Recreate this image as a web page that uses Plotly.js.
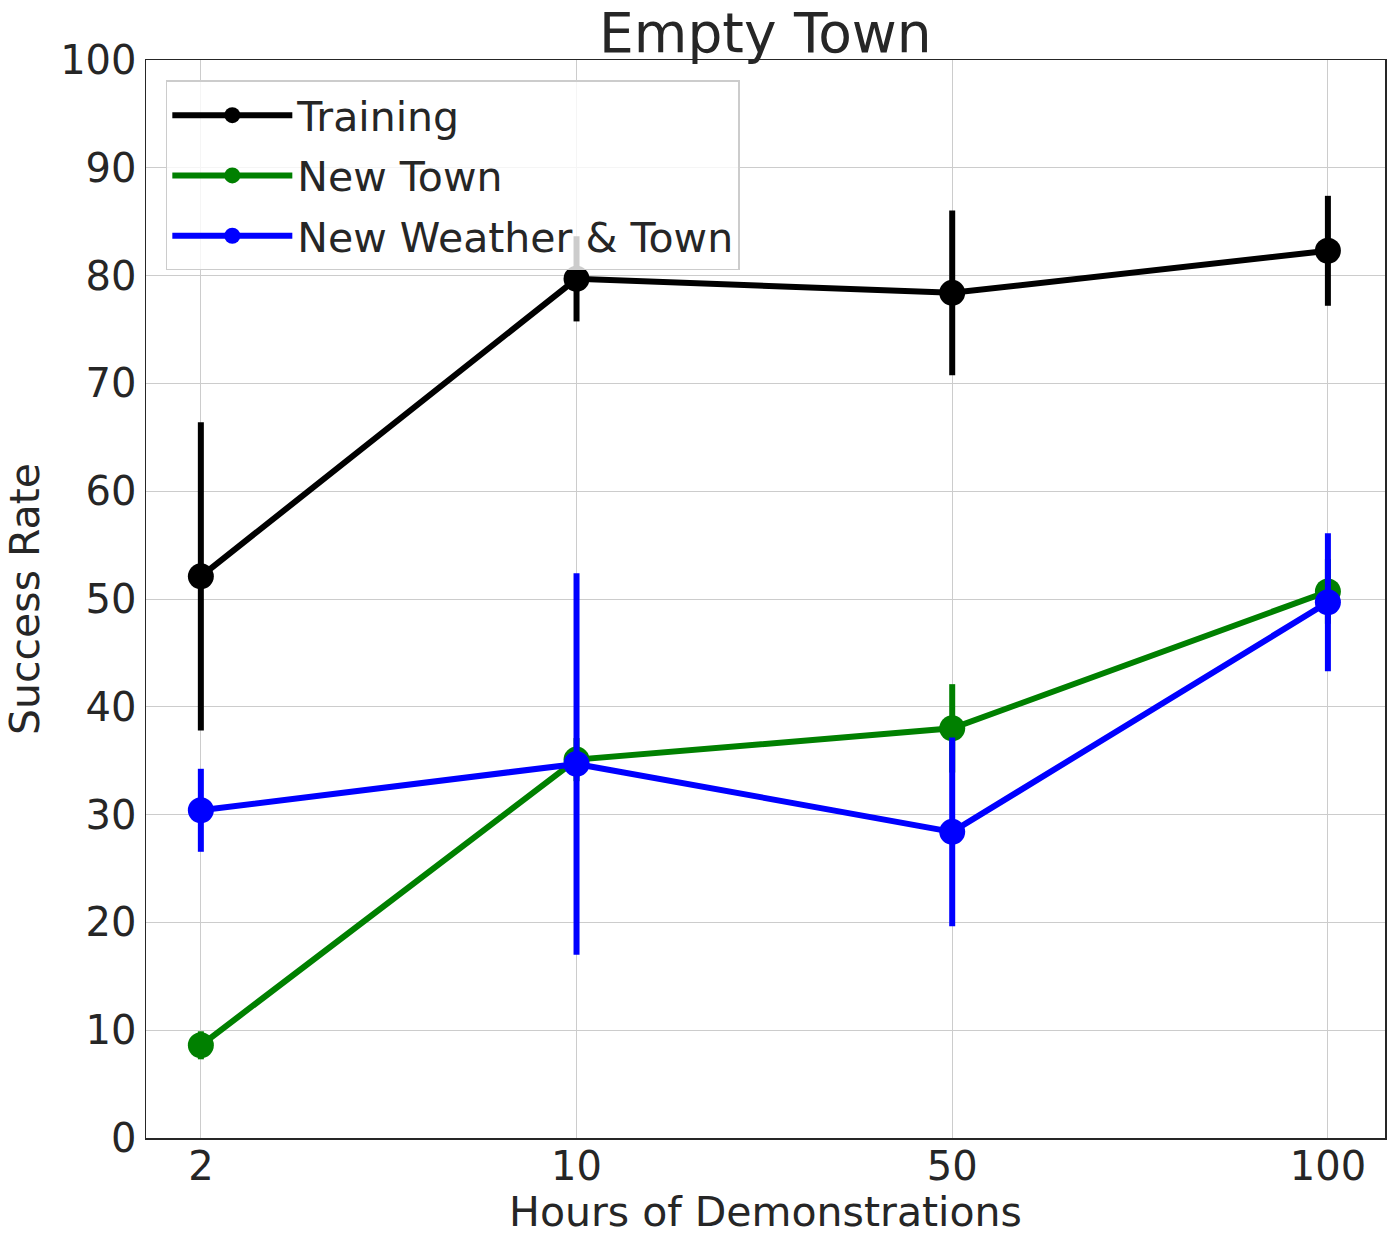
<!DOCTYPE html>
<html>
<head>
<meta charset="utf-8">
<script src="https://cdn.plot.ly/plotly-3.0.1.min.js"></script>
<style>
  html, body { margin: 0; padding: 0; background: #fff; }
  #chart { width: 1398px; height: 1243px; }
</style>
</head>
<body>
<div id="chart"></div>
<script>
// hours of demonstrations (categorical x axis)
var hours = ['2', '10', '50', '100'];

// success rate per split, with error (half-width of the bar)
var trainMean = [52.1, 79.7, 78.4, 82.3];
var trainErr = [14.3, 3.95, 7.65, 5.1];

var townMean = [8.6, 35.1, 38.0, 50.7];
var townErr = [1.3, 2.0, 4.1, 3.0];

var weatherMean = [30.4, 34.7, 28.4, 49.7];
var weatherErr = [3.85, 17.7, 8.75, 6.4];

var textColor = '#262626';

// one error-bar series
function series(name, y, err, color) {
  return {
    x: hours,
    y: y,
    name: name,
    legendgroup: name,
    type: 'scatter',
    mode: 'lines+markers',
    line: {color: color, width: 6},
    marker: {color: color, size: 26},
    error_y: {
      type: 'data',
      array: err,
      visible: true,
      color: color,
      thickness: 6,
      width: 0
    }
  };
}

var data = [
  series('Training', trainMean, trainErr, '#000000'),
  series('New Town', townMean, townErr, '#008000'),
  series('New Weather &amp; Town', weatherMean, weatherErr, '#0000ff')
];

var layout = {
  width: 1398,
  height: 1243,
  margin: {l: 146, r: 13, t: 60, b: 105},
  paper_bgcolor: '#ffffff',
  plot_bgcolor: '#ffffff',
  font: {family: 'DejaVu Sans', color: textColor, size: 40},
  showlegend: true,
  title: {
    text: 'Empty Town',
    font: {size: 55, color: textColor},
    x: 0.5475,
    xanchor: 'center',
    y: 0.9585,
    yanchor: 'bottom'
  },
  xaxis: {
    type: 'category',
    range: [-0.146, 3.152],
    showgrid: true,
    gridcolor: '#cccccc',
    gridwidth: 1,
    zeroline: false,
    showline: true,
    linecolor: '#262626',
    linewidth: 1.5,
    mirror: true,
    ticks: '',
    ticklabelstandoff: -8,
    tickfont: {size: 40, color: textColor},
    automargin: false,
    title: {text: 'Hours of Demonstrations', font: {size: 41, color: textColor}, standoff: 4}
  },
  yaxis: {
    range: [0, 100],
    dtick: 10,
    tick0: 0,
    showgrid: true,
    gridcolor: '#cccccc',
    gridwidth: 1,
    zeroline: false,
    showline: true,
    linecolor: '#262626',
    linewidth: 1.5,
    mirror: true,
    ticks: '',
    ticklabelstandoff: 0,
    tickfont: {size: 40, color: textColor},
    automargin: false,
    title: {text: 'Success Rate', font: {size: 41, color: textColor}, standoff: 8}
  },
  legend: {
    x: 0.016,
    y: 0.981,
    xanchor: 'left',
    yanchor: 'top',
    bgcolor: 'rgba(255,255,255,0.8)',
    bordercolor: '#cccccc',
    borderwidth: 1.5,
    font: {size: 41, color: textColor},
    tracegroupgap: 4,
    itemwidth: 120
  }
};

Plotly.newPlot('chart', data, layout, {displayModeBar: false, staticPlot: true});
</script>
</body>
</html>
